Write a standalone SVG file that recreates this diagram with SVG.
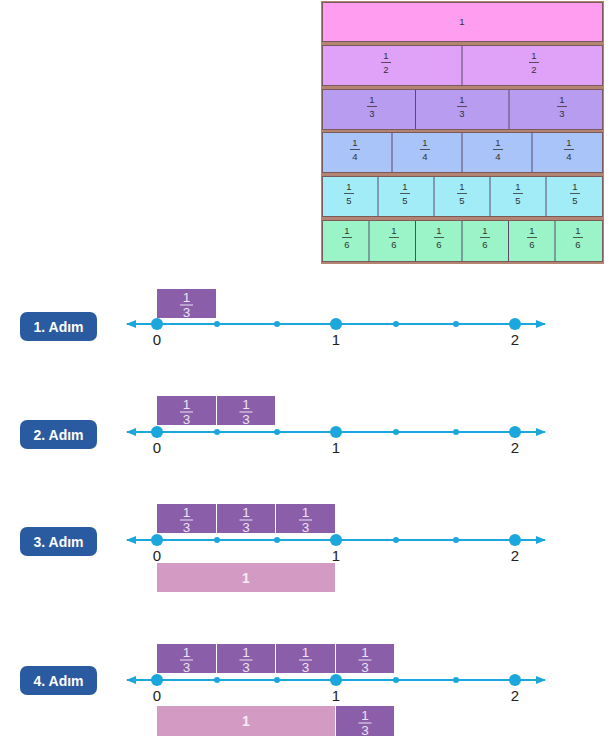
<svg xmlns="http://www.w3.org/2000/svg" width="610" height="744" viewBox="0 0 610 744">
<defs>
<style>
.row{stroke:#7a5a5a;stroke-width:1}
.div{stroke:#5a4a6a;stroke-width:1}
.wt{font-family:"Liberation Sans",Arial,sans-serif;font-size:9.5px;fill:#333;text-anchor:middle}
.wbar{stroke:#333;stroke-width:0.8}
.box{fill:#8a5ea8}
.pink{fill:#d39ac3}
.bt{font-family:"Liberation Sans",Arial,sans-serif;font-size:13.5px;fill:#ece4f4;text-anchor:middle}
.bbar{stroke:#ece4f4;stroke-width:1}
.line{stroke:#1ba6dc;stroke-width:2}
.dot{fill:#1ba6dc}
.num{font-family:"Liberation Sans",Arial,sans-serif;font-size:15px;fill:#222;text-anchor:middle}
.badge{fill:#2a5aa0}
.bdt{font-family:"Liberation Sans",Arial,sans-serif;font-size:14px;font-weight:bold;fill:#fff;text-anchor:middle}
.one{font-family:"Liberation Sans",Arial,sans-serif;font-size:14px;font-weight:bold;fill:#f4ecf4;text-anchor:middle}
</style>
<marker id="ah" viewBox="0 0 10 10" refX="9" refY="5" markerWidth="5" markerHeight="5" orient="auto-start-reverse" markerUnits="strokeWidth">
<path d="M0,1 L10,5 L0,9 z" fill="#1ba6dc"/>
</marker>
<g id="f3">
<text class="bt" x="0" y="13">1</text>
<line class="bbar" x1="-6.5" y1="16" x2="6.5" y2="16"/>
<text class="bt" x="0" y="28">3</text>
</g>
</defs>
<rect width="610" height="744" fill="#ffffff"/>

<g id="fraction-wall">
<rect x="321" y="1" width="283" height="263" fill="#b48472"/>
<rect class="row" x="322.5" y="2.5" width="280" height="39" fill="#ff9ef0"/>
<text class="wt" x="462" y="25">1</text>

<rect class="row" x="322.5" y="45.5" width="280" height="40" fill="#e0a2f8"/>
<line class="div" x1="462" y1="46" x2="462" y2="85"/>

<rect class="row" x="322.5" y="89.5" width="280" height="40" fill="#b89cf0"/>
<line class="div" x1="415.5" y1="90" x2="415.5" y2="129"/>
<line class="div" x1="509" y1="90" x2="509" y2="129"/>

<rect class="row" x="322.5" y="132.5" width="280" height="40" fill="#a8c4f8"/>
<line class="div" x1="392" y1="133" x2="392" y2="172"/>
<line class="div" x1="462" y1="133" x2="462" y2="172"/>
<line class="div" x1="532" y1="133" x2="532" y2="172"/>

<rect class="row" x="322.5" y="176.5" width="280" height="40" fill="#a2ecf8"/>
<line class="div" x1="378" y1="177" x2="378" y2="216"/>
<line class="div" x1="434" y1="177" x2="434" y2="216"/>
<line class="div" x1="490" y1="177" x2="490" y2="216"/>
<line class="div" x1="546" y1="177" x2="546" y2="216"/>

<rect class="row" x="322.5" y="220.5" width="280" height="41" fill="#9af4c8"/>
<line class="div" x1="369" y1="221" x2="369" y2="261"/>
<line class="div" x1="415.5" y1="221" x2="415.5" y2="261"/>
<line class="div" x1="462" y1="221" x2="462" y2="261"/>
<line class="div" x1="508.5" y1="221" x2="508.5" y2="261"/>
<line class="div" x1="555" y1="221" x2="555" y2="261"/>

<g>
<text class="wt" x="386" y="59">1</text><line class="wbar" x1="381" y1="62.5" x2="391" y2="62.5"/><text class="wt" x="386" y="73">2</text>
<text class="wt" x="534" y="59">1</text><line class="wbar" x1="529" y1="62.5" x2="539" y2="62.5"/><text class="wt" x="534" y="73">2</text>
<text class="wt" x="372" y="103">1</text><line class="wbar" x1="367" y1="106.5" x2="377" y2="106.5"/><text class="wt" x="372" y="117">3</text>
<text class="wt" x="462" y="103">1</text><line class="wbar" x1="457" y1="106.5" x2="467" y2="106.5"/><text class="wt" x="462" y="117">3</text>
<text class="wt" x="562" y="103">1</text><line class="wbar" x1="557" y1="106.5" x2="567" y2="106.5"/><text class="wt" x="562" y="117">3</text>
<text class="wt" x="355" y="146">1</text><line class="wbar" x1="350" y1="149.5" x2="360" y2="149.5"/><text class="wt" x="355" y="160">4</text>
<text class="wt" x="425" y="146">1</text><line class="wbar" x1="420" y1="149.5" x2="430" y2="149.5"/><text class="wt" x="425" y="160">4</text>
<text class="wt" x="498" y="146">1</text><line class="wbar" x1="493" y1="149.5" x2="503" y2="149.5"/><text class="wt" x="498" y="160">4</text>
<text class="wt" x="569" y="146">1</text><line class="wbar" x1="564" y1="149.5" x2="574" y2="149.5"/><text class="wt" x="569" y="160">4</text>
<text class="wt" x="349" y="190">1</text><line class="wbar" x1="344" y1="193.5" x2="354" y2="193.5"/><text class="wt" x="349" y="204">5</text>
<text class="wt" x="405" y="190">1</text><line class="wbar" x1="400" y1="193.5" x2="410" y2="193.5"/><text class="wt" x="405" y="204">5</text>
<text class="wt" x="462" y="190">1</text><line class="wbar" x1="457" y1="193.5" x2="467" y2="193.5"/><text class="wt" x="462" y="204">5</text>
<text class="wt" x="518" y="190">1</text><line class="wbar" x1="513" y1="193.5" x2="523" y2="193.5"/><text class="wt" x="518" y="204">5</text>
<text class="wt" x="575" y="190">1</text><line class="wbar" x1="570" y1="193.5" x2="580" y2="193.5"/><text class="wt" x="575" y="204">5</text>
<text class="wt" x="347" y="234">1</text><line class="wbar" x1="342" y1="237.5" x2="352" y2="237.5"/><text class="wt" x="347" y="248">6</text>
<text class="wt" x="394" y="234">1</text><line class="wbar" x1="389" y1="237.5" x2="399" y2="237.5"/><text class="wt" x="394" y="248">6</text>
<text class="wt" x="439" y="234">1</text><line class="wbar" x1="434" y1="237.5" x2="444" y2="237.5"/><text class="wt" x="439" y="248">6</text>
<text class="wt" x="485" y="234">1</text><line class="wbar" x1="480" y1="237.5" x2="490" y2="237.5"/><text class="wt" x="485" y="248">6</text>
<text class="wt" x="532" y="234">1</text><line class="wbar" x1="527" y1="237.5" x2="537" y2="237.5"/><text class="wt" x="532" y="248">6</text>
<text class="wt" x="578" y="234">1</text><line class="wbar" x1="573" y1="237.5" x2="583" y2="237.5"/><text class="wt" x="578" y="248">6</text>
</g>
</g>

<g id="step1">
<rect class="badge" x="20" y="312" width="77" height="29" rx="7"/>
<text class="bdt" x="58.5" y="331.5">1. Adım</text>
<rect class="box" x="157" y="289" width="59" height="29"/>
<use href="#f3" x="186.5" y="289"/>
</g>
<g id="step2">
<rect class="badge" x="20" y="420" width="77" height="29" rx="7"/>
<text class="bdt" x="58.5" y="439.5">2. Adım</text>
<rect class="box" x="157" y="396" width="59" height="29"/>
<rect class="box" x="217" y="396" width="58" height="29"/>
<use href="#f3" x="186.5" y="396"/>
<use href="#f3" x="246" y="396"/>
</g>
<g id="step3">
<rect class="badge" x="20" y="527" width="77" height="29" rx="7"/>
<text class="bdt" x="58.5" y="546.5">3. Adım</text>
<rect class="box" x="157" y="504" width="59" height="29"/>
<rect class="box" x="217" y="504" width="58" height="29"/>
<rect class="box" x="276" y="504" width="59" height="29"/>
<use href="#f3" x="186.5" y="504"/>
<use href="#f3" x="246" y="504"/>
<use href="#f3" x="305.5" y="504"/>
<rect class="pink" x="157" y="563" width="178" height="29"/>
<text class="one" x="246" y="583">1</text>
</g>
<g id="step4">
<rect class="badge" x="20" y="666" width="77" height="29" rx="7"/>
<text class="bdt" x="58.5" y="685.5">4. Adım</text>
<rect class="box" x="157" y="644" width="59" height="29"/>
<rect class="box" x="217" y="644" width="58" height="29"/>
<rect class="box" x="276" y="644" width="59" height="29"/>
<rect class="box" x="336" y="644" width="58" height="29"/>
<use href="#f3" x="186.5" y="644"/>
<use href="#f3" x="246" y="644"/>
<use href="#f3" x="305.5" y="644"/>
<use href="#f3" x="365" y="644"/>
<rect class="pink" x="157" y="706" width="178" height="30"/>
<text class="one" x="246" y="726">1</text>
<rect class="box" x="336" y="706" width="58" height="30"/>
<use href="#f3" x="365" y="707"/>
</g>

<g id="connectors">
<line class="line" x1="127" y1="324" x2="545" y2="324" marker-start="url(#ah)" marker-end="url(#ah)"/>
<line class="line" x1="127" y1="432" x2="545" y2="432" marker-start="url(#ah)" marker-end="url(#ah)"/>
<line class="line" x1="127" y1="540" x2="545" y2="540" marker-start="url(#ah)" marker-end="url(#ah)"/>
<line class="line" x1="127" y1="680" x2="545" y2="680" marker-start="url(#ah)" marker-end="url(#ah)"/>
</g>

<g id="number-points">
<g class="dot">
<circle cx="157" cy="324" r="6"/><circle cx="336" cy="324" r="6"/><circle cx="515" cy="324" r="6"/>
<circle cx="217" cy="324" r="3"/><circle cx="277" cy="324" r="3"/><circle cx="396" cy="324" r="3"/><circle cx="456" cy="324" r="3"/>
<circle cx="157" cy="432" r="6"/><circle cx="336" cy="432" r="6"/><circle cx="515" cy="432" r="6"/>
<circle cx="217" cy="432" r="3"/><circle cx="277" cy="432" r="3"/><circle cx="396" cy="432" r="3"/><circle cx="456" cy="432" r="3"/>
<circle cx="157" cy="540" r="6"/><circle cx="336" cy="540" r="6"/><circle cx="515" cy="540" r="6"/>
<circle cx="217" cy="540" r="3"/><circle cx="277" cy="540" r="3"/><circle cx="396" cy="540" r="3"/><circle cx="456" cy="540" r="3"/>
<circle cx="157" cy="680" r="6"/><circle cx="336" cy="680" r="6"/><circle cx="515" cy="680" r="6"/>
<circle cx="217" cy="680" r="3"/><circle cx="277" cy="680" r="3"/><circle cx="396" cy="680" r="3"/><circle cx="456" cy="680" r="3"/>
</g>
<text class="num" x="157" y="345">0</text><text class="num" x="336" y="345">1</text><text class="num" x="515" y="345">2</text>
<text class="num" x="157" y="453">0</text><text class="num" x="336" y="453">1</text><text class="num" x="515" y="453">2</text>
<text class="num" x="157" y="561">0</text><text class="num" x="336" y="561">1</text><text class="num" x="515" y="561">2</text>
<text class="num" x="157" y="701">0</text><text class="num" x="336" y="701">1</text><text class="num" x="515" y="701">2</text>
</g>
</svg>
